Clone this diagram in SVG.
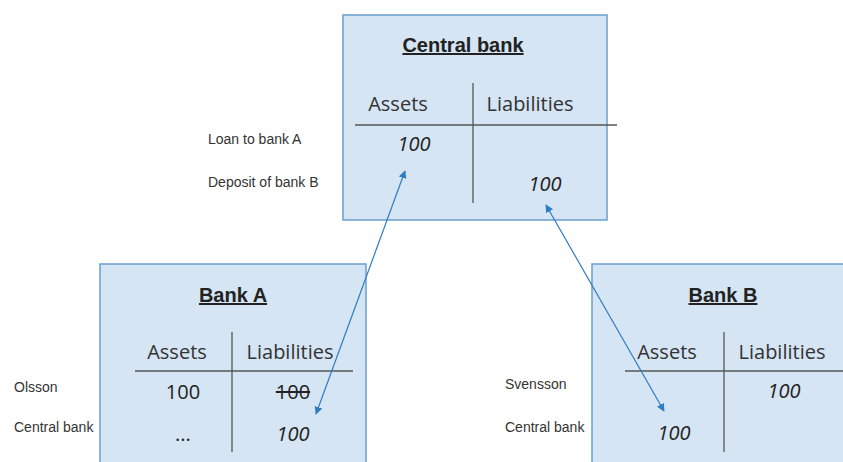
<svg xmlns="http://www.w3.org/2000/svg" width="843" height="462" viewBox="0 0 843 462">
<style>
.box{fill:#d5e5f3;stroke:#6a9fd0;stroke-width:1.5}
.rule{stroke:#555;stroke-width:1.3}
.title{font-family:"Liberation Sans",Arial,sans-serif;font-size:20px;font-weight:bold;fill:#222;text-anchor:middle;text-decoration:underline}
.hd{font-family:"Open Sans","Liberation Sans",sans-serif;font-size:20px;fill:#333;text-anchor:middle}
.num{font-family:"Open Sans","Liberation Sans",sans-serif;font-size:20px;fill:#222;text-anchor:middle}
.it{font-style:italic}
.lbl{font-family:"Liberation Sans",Arial,sans-serif;font-size:14px;fill:#333}
.conn{stroke:#2f7cc4;stroke-width:1.2;fill:none}
</style>
<defs>
<marker id="ah" viewBox="0 0 10 10" refX="9" refY="5" markerWidth="8" markerHeight="8" orient="auto-start-reverse" markerUnits="userSpaceOnUse">
<path d="M0,0 L10,5 L0,10 z" fill="#2f7cc4"/>
</marker>
</defs>
<rect width="843" height="462" fill="#fff"/>
<g id="central-bank">
<rect class="box" x="343" y="15" width="264" height="205"/>
<text class="title" x="463" y="52">Central bank</text>
<line class="rule" x1="473" y1="83" x2="473" y2="203"/>
<line class="rule" x1="355" y1="125" x2="617" y2="125"/>
<text class="hd" x="398" y="111">Assets</text>
<text class="hd" x="530" y="111">Liabilities</text>
<text class="num it" x="414" y="151">100</text>
<text class="num it" x="545" y="191">100</text>
<text class="lbl" x="208" y="144">Loan to bank A</text>
<text class="lbl" x="208" y="187">Deposit of bank B</text>
</g>
<g id="bank-a">
<rect class="box" x="100" y="264" width="266" height="210"/>
<text class="title" x="233" y="302">Bank A</text>
<line class="rule" x1="232" y1="332" x2="232" y2="452"/>
<line class="rule" x1="135" y1="371" x2="353" y2="371"/>
<text class="hd" x="177" y="359">Assets</text>
<text class="hd" x="290" y="359">Liabilities</text>
<text class="num" x="183" y="399">100</text>
<text class="num" x="293" y="399" text-decoration="line-through">100</text>
<text class="num" x="183" y="441">...</text>
<text class="num it" x="293" y="441">100</text>
<text class="lbl" x="14" y="392">Olsson</text>
<text class="lbl" x="14" y="432">Central bank</text>
</g>
<g id="bank-b">
<rect class="box" x="592" y="264" width="260" height="210"/>
<text class="title" x="723" y="302">Bank B</text>
<line class="rule" x1="724" y1="332" x2="724" y2="452"/>
<line class="rule" x1="625" y1="371" x2="843" y2="371"/>
<text class="hd" x="667" y="359">Assets</text>
<text class="hd" x="782" y="359">Liabilities</text>
<text class="num it" x="784" y="398">100</text>
<text class="num it" x="674" y="440">100</text>
<text class="lbl" x="505" y="389">Svensson</text>
<text class="lbl" x="505" y="432">Central bank</text>
</g>
<g id="connectors">
<line class="conn" x1="405" y1="171" x2="316" y2="414" marker-start="url(#ah)" marker-end="url(#ah)"/>
<line class="conn" x1="546" y1="205" x2="664" y2="411" marker-start="url(#ah)" marker-end="url(#ah)"/>
</g>
</svg>
